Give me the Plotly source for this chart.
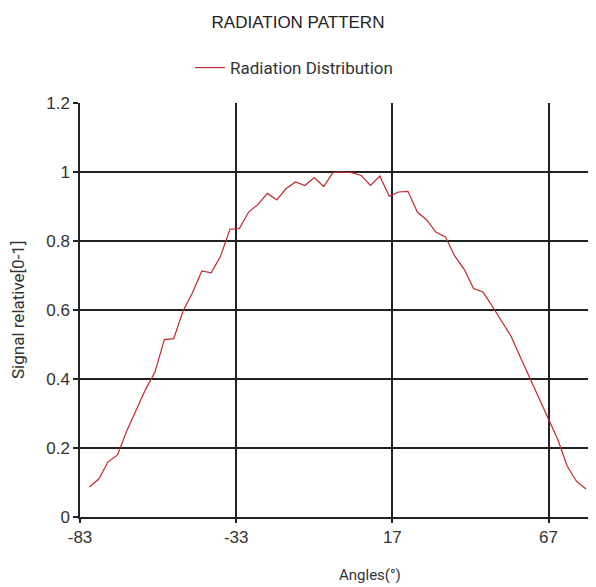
import plotly.graph_objects as go

angles = [-80, -77, -74, -71, -68, -65, -62, -59, -56, -53, -50, -47, -44, -41, -38, -35,
          -32, -29, -26, -23, -20, -17, -14, -11, -8, -5, -2, 1, 4, 7, 10, 13, 16, 19, 22,
          25, 28, 31, 34, 37, 40, 43, 46, 49, 52, 55, 58, 61, 64, 67, 70, 73, 76, 79]
signal = [0.087, 0.110, 0.160, 0.180, 0.250, 0.310, 0.370, 0.420, 0.514, 0.517, 0.597,
          0.650, 0.713, 0.708, 0.756, 0.834, 0.836, 0.884, 0.906, 0.938, 0.919, 0.952,
          0.971, 0.961, 0.984, 0.958, 0.998, 1.000, 0.998, 0.990, 0.961, 0.988, 0.930,
          0.942, 0.944, 0.884, 0.861, 0.825, 0.812, 0.756, 0.718, 0.662, 0.652, 0.611,
          0.568, 0.524, 0.463, 0.403, 0.345, 0.282, 0.224, 0.147, 0.103, 0.081]
x_ticks = [-83, -33, 17, 67]
y_ticks = [0, 0.2, 0.4, 0.6, 0.8, 1, 1.2]

narrow = "Roboto, Liberation Sans, sans-serif"
regular = "Liberation Sans, Arial, sans-serif"

# page body has an 8px margin, so the figure is offset by (8, 8) in the window
OFF = 8
W, H = 596 - OFF, 587 - OFF
L, T, B = 80 - OFF, 103 - OFF, H - (517 - OFF)
PW, PH = W - L, H - T - B

fig = go.Figure()
fig.add_trace(go.Scatter(
    x=angles, y=signal, mode="lines", name="Radiation Distribution",
    line=dict(color="#c0282d", width=1.2),
))

fig.update_layout(
    width=W, height=H,
    margin=dict(l=L, r=0, t=T, b=B),
    paper_bgcolor="white", plot_bgcolor="white",
    title=dict(text="RADIATION PATTERN", x=(298 - OFF) / W, xref="container",
               xanchor="center", y=1 - (22 - OFF) / H, yref="container",
               yanchor="middle",
               font=dict(family=regular, size=17, color="#222")),
    showlegend=True,
    legend=dict(orientation="h", x=(294 - OFF) / W, xref="container", xanchor="center",
                y=1 - (68 - OFF) / H, yref="container", yanchor="middle",
                font=dict(family=narrow, size=17, color="#333"),
                bgcolor="rgba(0,0,0,0)"),
    font=dict(family=regular, color="#222"),
)

fig.update_xaxes(
    range=[-83, 82.2], tickmode="array", tickvals=x_ticks,
    ticktext=[str(v) for v in x_ticks],
    showgrid=True, gridcolor="#222", gridwidth=1.5,
    showline=True, linecolor="#222", linewidth=1.5,
    zeroline=False, ticks="outside", ticklen=4, tickcolor="#222", tickwidth=1.5,
    tickfont=dict(family=regular, size=17, color="#333"),
)
fig.update_yaxes(
    range=[0, 1.2], tickmode="array", tickvals=y_ticks,
    ticktext=["0", "0.2", "0.4", "0.6", "0.8", "1", "1.2"],
    showgrid=True, gridcolor="#222", gridwidth=1.5,
    showline=True, linecolor="#222", linewidth=1.5,
    zeroline=False, ticks="outside", ticklen=5, tickcolor="#222", tickwidth=1.5,
    tickfont=dict(family=regular, size=17, color="#333"),
)

fig.add_annotation(text="Angles(°)", xref="paper", yref="paper",
                   x=(370 - 80) / PW, y=-(575 - 517) / PH, showarrow=False,
                   xanchor="center", yanchor="middle",
                   font=dict(family=narrow, size=15, color="#333"))
fig.add_annotation(text="Signal relative[0-1]", xref="paper", yref="paper",
                   x=-(80 - 18) / PW, y=0.5, showarrow=False, textangle=-90,
                   xanchor="center", yanchor="middle",
                   font=dict(family=narrow, size=17, color="#333"))

fig.write_html("out.html")
